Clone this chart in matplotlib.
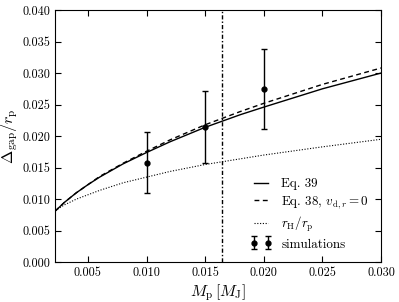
import numpy as np
import matplotlib
matplotlib.use('Agg')
import matplotlib.pyplot as plt

plt.rcParams['font.family'] = 'serif'
plt.rcParams['font.serif'] = ['cmr10', 'DejaVu Serif']
plt.rcParams['mathtext.fontset'] = 'cm'
plt.rcParams['axes.formatter.use_mathtext'] = True

# planet mass in Jupiter masses
mass = [0.0022, 0.003, 0.004, 0.005, 0.006, 0.008, 0.010, 0.012,
        0.015, 0.018, 0.020, 0.025, 0.030]
# gap width, Eq. 39
gap_eq39 = [0.0081, 0.0095, 0.0110, 0.0123, 0.0135, 0.0156, 0.0174, 0.0191,
            0.0214, 0.0234, 0.0246, 0.0275, 0.0300]
# gap width, Eq. 38 with v_d,r = 0
gap_eq38 = [0.0081, 0.0095, 0.0110, 0.0123, 0.0136, 0.0157, 0.0176, 0.0194,
            0.0218, 0.0239, 0.0252, 0.0282, 0.0308]
# Hill radius
hill = [0.0082, 0.0091, 0.0100, 0.0107, 0.0114, 0.0126, 0.0135, 0.0144,
        0.0155, 0.0164, 0.0170, 0.0183, 0.0195]

# simulations
sim_mass = [0.010, 0.015, 0.020]
sim_gap = [0.0158, 0.0215, 0.0275]
sim_err = [0.0048, 0.0057, 0.0063]

vline_mass = 0.0164

fig = plt.figure(figsize=(3.99, 3.02), dpi=100)
ax = fig.add_axes([0.138, 0.1315, 0.817, 0.8355])

ax.plot(mass, gap_eq39, 'k-', lw=1.0, label='Eq. 39')
ax.plot(mass, gap_eq38, color='k', ls=(0, (3.5, 2.5)), lw=1.0,
        label=r'Eq. 38, $v_{\mathrm{d},r}=0$')
ax.plot(mass, hill, color='k', ls=(0, (1, 1.5)), lw=0.8,
        label=r'$r_\mathrm{H}/r_\mathrm{p}$')
ax.errorbar(sim_mass, sim_gap, yerr=sim_err, fmt='o', color='k', ms=3.5,
            elinewidth=1.0, capsize=2, capthick=1.0, label='simulations')
ax.axvline(vline_mass, color='k', ls=(0, (3, 1.5, 1, 1.5)), lw=1.0)

ax.set_xlim(0.0022, 0.030)
ax.set_ylim(0.0, 0.040)
ax.set_xticks([0.005, 0.010, 0.015, 0.020, 0.025, 0.030])
ax.set_yticks(np.arange(0, 0.0401, 0.005))
ax.xaxis.set_major_formatter(matplotlib.ticker.FormatStrFormatter('%.3f'))
ax.yaxis.set_major_formatter(matplotlib.ticker.FormatStrFormatter('%.3f'))
ax.tick_params(direction='in', top=True, right=True, labelsize=8.8, length=4)

ax.set_xlabel(r'$M_\mathrm{p}\,[M_\mathrm{J}]$', fontsize=11.5, labelpad=2)
ax.set_ylabel(r'$\Delta_\mathrm{gap}/r_\mathrm{p}$', fontsize=11.5, labelpad=2)

ax.legend(loc='lower right', frameon=False, fontsize=9.4, numpoints=2,
          handlelength=1.65, handletextpad=0.75, labelspacing=0.32,
          borderaxespad=0.5)

fig.savefig('out.png', dpi=100)
